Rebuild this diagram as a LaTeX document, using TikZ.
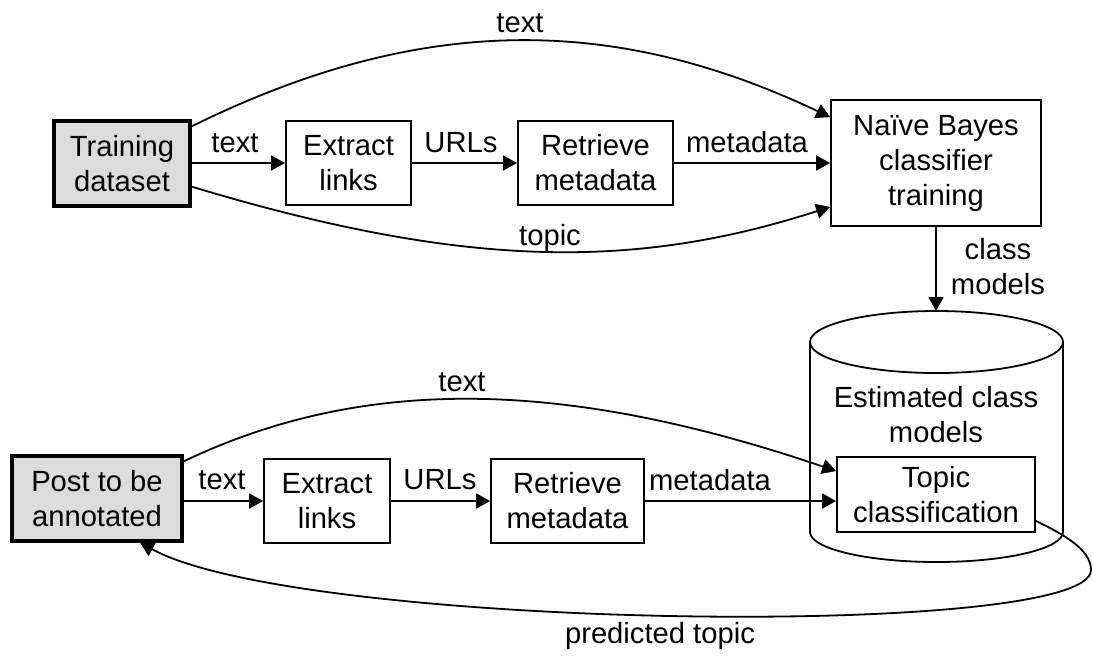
\documentclass[tikz,border=0pt]{standalone}
\usepackage{fontspec}
\setmainfont{Liberation Sans}
\usetikzlibrary{arrows.meta}
\definecolor{boxgray}{HTML}{DCDCDC}
\begin{document}
\begin{tikzpicture}[x=0.5pt,y=-0.5pt,
  every node/.style={font=\fontsize{14.6pt}{17.5pt}\selectfont},
  proc/.style={draw,line width=0.9pt,fill=white,align=center,inner sep=0pt},
  src/.style={draw,line width=1.6pt,fill=boxgray,align=center,inner sep=0pt},
  lbl/.style={inner sep=0pt,align=center},
  conn/.style={line width=0.9pt,-{Triangle[length=7pt,width=7.5pt]}},
  plain/.style={line width=0.9pt}
]
\useasboundingbox (0,0) rectangle (1093,661);

% top row
\node[src]  (train) at (122,163.5) [minimum width=68pt,minimum height=42.5pt] {Training\\dataset};
\node[proc] (ext1)  at (348.5,163) [minimum width=62.5pt,minimum height=42pt] {Extract\\links};
\node[proc] (ret1)  at (595.5,163) [minimum width=77.5pt,minimum height=42pt] {Retrieve\\metadata};
\node[proc] (nb)    at (936,163)   [minimum width=105pt,minimum height=63pt] {Naïve Bayes\\classifier\\training};

% cylinder
\draw[plain,fill=white] (810,342) -- (810,532)
  arc[start angle=180,end angle=360,x radius=63.25pt,y radius=15pt] -- (1063,342);
\draw[plain] (936.5,342) ellipse [x radius=63.25pt,y radius=15.5pt];
\coordinate (cyltop) at (936,311);
\node[lbl] (est) at (936,415) {Estimated class\\models};

% bottom row
\node[src]  (post)  at (97,498.5)  [minimum width=85pt,minimum height=42.5pt] {Post to be\\annotated};
\node[proc] (ext2)  at (327,501)   [minimum width=63pt,minimum height=42pt] {Extract\\links};
\node[proc] (ret2)  at (567.5,501) [minimum width=76.5pt,minimum height=42pt] {Retrieve\\metadata};
\node[proc] (topic) at (936,494.5) [minimum width=99pt,minimum height=37.5pt] {Topic\\classification};

% top connectors
\draw[conn] (train.east |- ext1.west) -- (ext1.west);
\draw[conn] (ext1.east) -- (ret1.west);
\draw[conn] (ret1.east) -- (nb.west |- ret1.east);
\draw[conn] ([yshift=-3.5pt]train.north east) .. controls (419,14) and (613,14) .. ([yshift=-9pt]nb.north west);
\draw[conn] ([yshift=10.5pt]train.south east) .. controls (466,269.5) and (636,269.5) .. ([yshift=10pt]nb.south west);
\draw[conn] (nb.south) -- (cyltop);

\node[lbl] at (235,143) {text};
\node[lbl] at (461,143) {URLs};
\node[lbl] at (747,142) {metadata};
\node[lbl] at (520,23) {text};
\node[lbl] at (550,238) {topic};
\node[lbl] at (998,267) {class\\models};

% bottom connectors
\draw[conn] (post.east |- ext2.west) -- (ext2.west);
\draw[conn] (ext2.east) -- (ret2.west);
\draw[conn] (ret2.east) -- (topic.west |- ret2.east);
\draw[conn] ([yshift=-3.5pt]post.north east) .. controls (360,377) and (560,377) .. ([yshift=-7.5pt]topic.north west);
\coordinate (loop) at (1091,570);
\draw[conn] ([yshift=6pt]topic.south east) .. controls (1065,535) and (1091,550) .. (loop)
  .. controls (1091,640) and (300,630) .. ([xshift=21.5pt]post.south);

\node[lbl] at (222,480) {text};
\node[lbl] at (440,480) {URLs};
\node[lbl] at (710,480) {metadata};
\node[lbl] at (462,382) {text};
\node[lbl] at (660,636) {predicted topic};
\end{tikzpicture}
\end{document}
